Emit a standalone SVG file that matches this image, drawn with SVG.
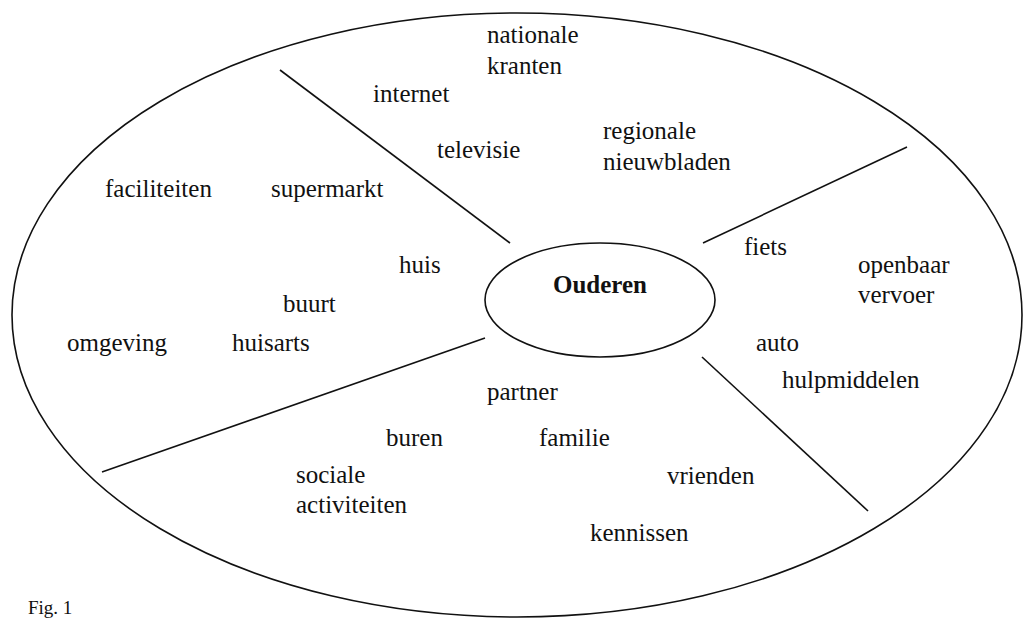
<svg xmlns="http://www.w3.org/2000/svg" width="1023" height="619" viewBox="0 0 1023 619">
<style>
.t{font-family:"Liberation Serif","Times New Roman",serif;font-size:25px;fill:#111}
.b{font-weight:bold}
.s{stroke:#111;stroke-width:1.6;fill:none}
</style>
<rect width="1023" height="619" fill="#fff"/>
<g id="outer"><ellipse class="s" cx="517" cy="315" rx="505" ry="302"/></g>
<g id="connectors">
<line class="s" x1="280" y1="70" x2="510" y2="243"/>
<line class="s" x1="907" y1="147" x2="703" y2="243"/>
<line class="s" x1="485" y1="338" x2="102" y2="472"/>
<line class="s" x1="702" y1="357" x2="868" y2="511"/>
</g>
<g id="center"><ellipse class="s" cx="600" cy="300" rx="115" ry="57"/><text class="t b" x="553" y="293">Ouderen</text></g>
<g id="media">
<text class="t" x="487" y="43">nationale</text>
<text class="t" x="487" y="74">kranten</text>
<text class="t" x="373" y="102">internet</text>
<text class="t" x="437" y="158">televisie</text>
<text class="t" x="603" y="139">regionale</text>
<text class="t" x="603" y="170">nieuwbladen</text>
</g>
<g id="omgeving">
<text class="t" x="105" y="197">faciliteiten</text>
<text class="t" x="271" y="197">supermarkt</text>
<text class="t" x="399" y="273">huis</text>
<text class="t" x="283" y="312">buurt</text>
<text class="t" x="67" y="351">omgeving</text>
<text class="t" x="232" y="351">huisarts</text>
</g>
<g id="vervoer">
<text class="t" x="744" y="255">fiets</text>
<text class="t" x="858" y="273">openbaar</text>
<text class="t" x="858" y="303">vervoer</text>
<text class="t" x="756" y="351">auto</text>
<text class="t" x="782" y="388">hulpmiddelen</text>
</g>
<g id="sociaal">
<text class="t" x="487" y="400">partner</text>
<text class="t" x="386" y="446">buren</text>
<text class="t" x="539" y="446">familie</text>
<text class="t" x="296" y="483">sociale</text>
<text class="t" x="296" y="513">activiteiten</text>
<text class="t" x="667" y="484">vrienden</text>
<text class="t" x="590" y="541">kennissen</text>
</g>
<g id="caption"><text class="t" x="28" y="614" style="font-size:19px">Fig. 1</text></g>
</svg>
